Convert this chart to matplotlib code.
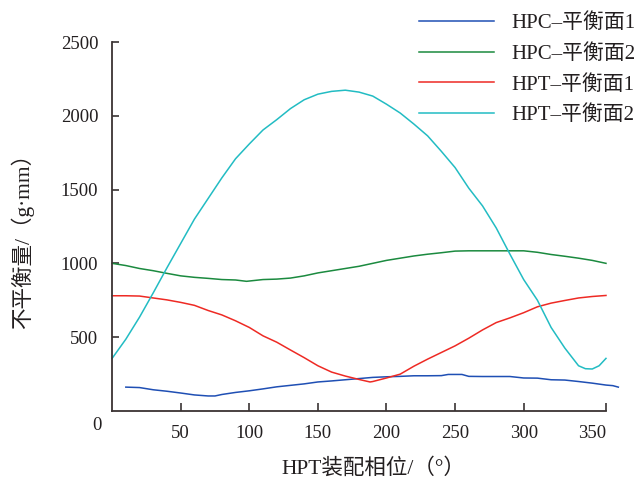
import matplotlib
matplotlib.use("Agg")
import matplotlib.pyplot as plt

plt.rcParams["font.family"] = ["Liberation Serif", "Noto Sans CJK SC"]

# Unbalance (g·mm) versus HPT assembly phase (deg)
angle_hpc1 = [10, 20, 30, 40, 50, 60, 70, 75, 80, 90, 100, 110, 120, 130, 140, 150,
              160, 170, 180, 190, 200, 210, 220, 230, 240, 245, 255, 260, 270, 280,
              290, 300, 310, 320, 330, 340, 350, 360, 365, 369]
hpc1 = [160, 157, 142, 132, 120, 107, 100, 100, 110, 124, 135, 148, 162, 172, 182, 195,
        202, 210, 218, 226, 230, 233, 237, 237, 238, 246, 246, 233, 232, 232,
        232, 222, 221, 210, 208, 198, 187, 174, 170, 160]

angle_hpc2 = [0, 10, 20, 30, 40, 50, 60, 70, 80, 90, 98, 100, 110, 120, 130, 140, 150,
              160, 170, 180, 190, 200, 210, 220, 230, 240, 250, 260, 270, 280, 290,
              300, 310, 320, 330, 340, 350, 360]
hpc2 = [1000, 985, 965, 950, 932, 915, 905, 898, 890, 887, 878, 880, 890, 893, 900, 915, 935,
        950, 965, 980, 1000, 1020, 1035, 1050, 1062, 1072, 1083, 1085, 1085, 1085, 1085,
        1085, 1075, 1060, 1048, 1035, 1020, 1000]

angle_hpt1 = [0, 10, 20, 30, 40, 50, 60, 70, 80, 90, 100, 110, 120, 130, 140, 150, 160,
              170, 180, 188, 190, 200, 210, 220, 230, 240, 250, 260, 270, 280, 290, 300,
              310, 320, 330, 340, 350, 360]
hpt1 = [780, 780, 778, 765, 752, 735, 715, 680, 650, 610, 565, 508, 465, 412, 360, 305, 262,
        235, 212, 195, 198, 222, 248, 302, 350, 395, 440, 492, 548, 598, 630, 665,
        705, 730, 748, 765, 775, 782]

angle_hpt2 = [0, 10, 20, 30, 40, 50, 60, 70, 80, 90, 100, 110, 120, 130, 140, 150, 160,
              170, 180, 190, 200, 210, 220, 230, 240, 250, 260, 270, 280, 290, 300, 310,
              320, 330, 340, 345, 350, 355, 360]
hpt2 = [355, 485, 635, 800, 970, 1135, 1300, 1440, 1580, 1710, 1810, 1905, 1975, 2050, 2110,
        2148, 2167, 2175, 2162, 2135, 2080, 2020, 1945, 1865, 1760, 1650, 1510, 1390, 1240,
        1062, 890, 750, 565, 425, 305, 285, 283, 305, 355]

series = [
    (angle_hpc1, hpc1, "HPC\u2013平衡面1", "#1f4fb4"),
    (angle_hpc2, hpc2, "HPC\u2013平衡面2", "#1b8a3f"),
    (angle_hpt1, hpt1, "HPT\u2013平衡面1", "#ee2a24"),
    (angle_hpt2, hpt2, "HPT\u2013平衡面2", "#22bcc3"),
]

x_ticks = [50, 100, 150, 200, 250, 300, 350]
y_ticks = [500, 1000, 1500, 2000, 2500]

W, H = 637, 482
fig = plt.figure(figsize=(W / 100, H / 100), dpi=100)
ax = fig.add_axes([112.1 / W, 71.3 / H, 507.6 / W, 368.4 / H])

for xs, ys, name, col in series:
    ax.plot(xs, ys, color=col, lw=1.1, label=name, clip_on=False)

ax.set_xlim(0, 370)
ax.set_ylim(0, 2500)

axis_col = "#3a3333"
for side in ("top", "right"):
    ax.spines[side].set_visible(False)
for side in ("left", "bottom"):
    ax.spines[side].set_color(axis_col)
    ax.spines[side].set_linewidth(1.3)
ax.spines["bottom"].set_bounds(0, 360)

ax.set_xticks(x_ticks)
ax.set_xticklabels([str(v) for v in x_ticks])
ax.set_xticks([360], minor=True)
ax.set_yticks(y_ticks)
ax.set_yticklabels([str(v) for v in y_ticks])
ax.tick_params(axis="both", which="both", direction="in", colors=axis_col,
               labelcolor="#231f20", labelsize=13.5, width=1.2)
ax.tick_params(axis="x", which="both", length=6, pad=10)
ax.tick_params(axis="y", length=5, pad=10)
for t in ax.xaxis.get_major_ticks():
    if t.get_loc() == 350:
        t.tick1line.set_visible(False)

ax.annotate("0", xy=(0, 0), xytext=(-11, -10.5), textcoords="offset points",
            ha="center", va="center", fontsize=13.5, color="#231f20",
            annotation_clip=False)

ax.set_xlabel("HPT装配相位/（°）", fontsize=15.5, color="#231f20", va="center")
ax.xaxis.set_label_coords(0.515, -0.158)
ax.set_ylabel("不平衡量/（g·mm）", fontsize=15.5, color="#231f20", va="center")
ax.yaxis.set_label_coords(-0.1775, 0.475)

fig.legend(loc="center left", bbox_to_anchor=(419 / W, 1 - 69.5 / H),
           frameon=False, fontsize=15, handlelength=3.6, handletextpad=0.85,
           labelspacing=0.52, borderpad=0, borderaxespad=0, labelcolor="#231f20")

fig.savefig("out.png", dpi=100)
